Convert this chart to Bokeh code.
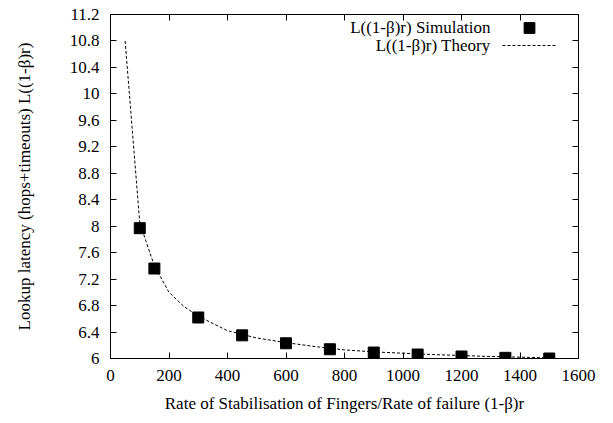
from bokeh.plotting import figure
from bokeh.models import (LinearAxis, FixedTicker, CustomJSTickFormatter, Legend,
                          LegendItem, Label, Range1d)
from bokeh.embed import file_html
from bokeh.resources import INLINE

# Data
sim_x = [100, 150, 300, 450, 600, 750, 900, 1050, 1200, 1350, 1500]
sim_y = [7.97, 7.36, 6.62, 6.35, 6.23, 6.14, 6.09, 6.06, 6.03, 6.01, 6.0]

theory_x = [50, 100, 150, 200, 250, 300, 400, 500, 600, 700, 800, 900, 1000,
            1100, 1200, 1300, 1400, 1500]
theory_y = [10.8, 8.05, 7.4, 7.0, 6.79, 6.64, 6.42, 6.31, 6.24, 6.18, 6.13,
            6.10, 6.08, 6.06, 6.045, 6.03, 6.02, 6.01]

x_ticks = [0, 200, 400, 600, 800, 1000, 1200, 1400, 1600]
y_ticks = [6.0, 6.4, 6.8, 7.2, 7.6, 8.0, 8.4, 8.8, 9.2, 9.6, 10.0, 10.4,
           10.8, 11.2]

sim_label = "L((1-\u03b2)r) Simulation"
theory_label = "L((1-\u03b2)r) Theory"
x_title = "Rate of Stabilisation of Fingers/Rate of failure (1-\u03b2)r"
y_title = "Lookup latency (hops+timeouts) L((1-\u03b2)r)"

FONT = "Liberation Serif"
FS = "17px"

p = figure(width=605, height=415, output_backend="svg", toolbar_location=None,
           x_range=Range1d(0, 1600), y_range=Range1d(6, 11.2),
           min_border_left=110, min_border_right=27, min_border_top=14,
           min_border_bottom=56)
p.grid.visible = False
p.outline_line_color = "black"
p.outline_line_width = 1
p.background_fill_color = "white"
p.border_fill_color = "white"

fmt = CustomJSTickFormatter(code="return (Math.round(tick*10)/10).toString();")
blank = CustomJSTickFormatter(code="return '';")

def style_axis(ax, ticks):
    ax.ticker = FixedTicker(ticks=ticks)
    ax.axis_line_color = "black"
    ax.major_tick_line_color = "black"
    ax.major_tick_in = 6
    ax.major_tick_out = 0
    ax.minor_tick_line_color = None
    ax.major_label_text_font = FONT
    ax.major_label_text_font_size = FS
    ax.major_label_text_color = "black"
    ax.axis_label_text_font = FONT
    ax.axis_label_text_font_size = FS
    ax.axis_label_text_font_style = "normal"
    ax.axis_label_text_color = "black"

xa = p.xaxis[0]
style_axis(xa, x_ticks)
xa.formatter = fmt
xa.major_label_standoff = 11
xa.axis_label = x_title
xa.axis_label_standoff = 10

ya = p.yaxis[0]
style_axis(ya, y_ticks)
ya.formatter = fmt
ya.major_label_standoff = 11
ya.axis_label = y_title
ya.axis_label_standoff = 33

top = LinearAxis()
style_axis(top, x_ticks)
top.formatter = blank
top.major_label_standoff = 0
p.add_layout(top, "above")

right = LinearAxis()
style_axis(right, y_ticks)
right.formatter = blank
right.major_label_standoff = 0
p.add_layout(right, "right")

theory = p.line(theory_x, theory_y, line_color="black", line_width=1,
                line_dash="3 2")
sim = p.scatter(sim_x, sim_y, marker="square", size=11, fill_color="black",
                line_color="black")

common = dict(glyph_width=54, label_width=0, label_standoff=0, spacing=0,
              padding=0, margin=0, border_line_color=None,
              background_fill_alpha=0, label_text_font_size="1px")
leg_sim = Legend(items=[LegendItem(label=" ", renderers=[sim])],
                 location=(392, 317), glyph_height=27, **common)
leg_th = Legend(items=[LegendItem(label=" ", renderers=[theory])],
                location=(392, 304), glyph_height=18, **common)
p.add_layout(leg_sim)
p.add_layout(leg_th)

for txt, yy in [(sim_label, 331), (theory_label, 313)]:
    p.add_layout(Label(x=380, y=yy, x_units="screen", y_units="screen",
                       text=txt, text_align="right", text_baseline="middle",
                       text_font=FONT, text_font_size=FS, text_color="black"))

open("out.html", "w").write(file_html(p, INLINE))
